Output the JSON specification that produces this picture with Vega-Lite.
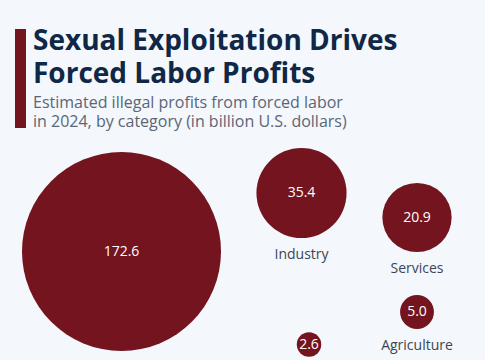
{
  "$schema": "https://vega.github.io/schema/vega-lite/v6.json",
  "width": 485,
  "height": 360,
  "autosize": {"type": "none"},
  "padding": 0,
  "background": "#f4f7fb",
  "title": {
    "text": ["Sexual Exploitation Drives", "Forced Labor Profits"],
    "subtitle": ["Estimated illegal profits from forced labor", "in 2024, by category (in billion U.S. dollars)"],
    "anchor": "start",
    "frame": "group",
    "dx": 33,
    "offset": -130,
    "font": "Open Sans",
    "fontSize": 28,
    "fontWeight": "bold",
    "color": "#0f2846",
    "lineHeight": 33,
    "subtitleFont": "Open Sans",
    "subtitleFontSize": 16,
    "subtitleColor": "#5a6677",
    "subtitleLineHeight": 19.5,
    "subtitlePadding": 6
  },
  "config": {"view": {"stroke": null}},
  "data": {
    "values": [
      {"category": "Commercial sexual exploitation", "value": 172.6, "label": "172.6", "px": 121.5, "py": 251.5, "shown": false},
      {"category": "Industry", "value": 35.4, "label": "35.4", "px": 301.5, "py": 193, "shown": true},
      {"category": "Services", "value": 20.9, "label": "20.9", "px": 417, "py": 217.5, "shown": true},
      {"category": "Agriculture", "value": 5.0, "label": "5.0", "px": 417, "py": 312, "shown": true},
      {"category": "Domestic work", "value": 2.6, "label": "2.6", "px": 309, "py": 344.5, "shown": false}
    ]
  },
  "layer": [
    {
      "data": {"values": [{"name": "bar"}]},
      "mark": {"type": "rule", "color": "#73141f", "strokeWidth": 11, "strokeCap": "butt"},
      "encoding": {
        "x": {"datum": 20.5, "type": "quantitative", "scale": {"domain": [0, 485], "nice": false, "zero": false}, "axis": null},
        "y": {"datum": 29, "type": "quantitative", "scale": {"domain": [0, 360], "reverse": true, "nice": false, "zero": false}, "axis": null},
        "y2": {"datum": 128}
      }
    },
    {
      "mark": {"type": "circle", "color": "#73141f", "opacity": 1},
      "encoding": {
        "x": {"field": "px", "type": "quantitative", "axis": null},
        "y": {"field": "py", "type": "quantitative", "axis": null},
        "size": {"field": "value", "type": "quantitative", "scale": {"type": "linear", "domain": [0, 172.6], "range": [0, 39601], "zero": true}, "legend": null}
      }
    },
    {
      "mark": {"type": "text", "color": "#ffffff", "font": "Open Sans", "fontSize": 14, "fontWeight": 500, "align": "center", "baseline": "middle"},
      "encoding": {
        "x": {"field": "px", "type": "quantitative", "axis": null},
        "y": {"field": "py", "type": "quantitative", "axis": null},
        "text": {"field": "label"}
      }
    },
    {
      "transform": [
        {"filter": "datum.shown"},
        {"calculate": "datum.py + 99.5 * sqrt(datum.value / 172.6) + 17", "as": "ly"}
      ],
      "mark": {"type": "text", "color": "#3a4656", "font": "Open Sans", "fontSize": 14, "align": "center", "baseline": "middle"},
      "encoding": {
        "x": {"field": "px", "type": "quantitative", "axis": null},
        "y": {"field": "ly", "type": "quantitative", "axis": null},
        "text": {"field": "category"}
      }
    }
  ]
}
